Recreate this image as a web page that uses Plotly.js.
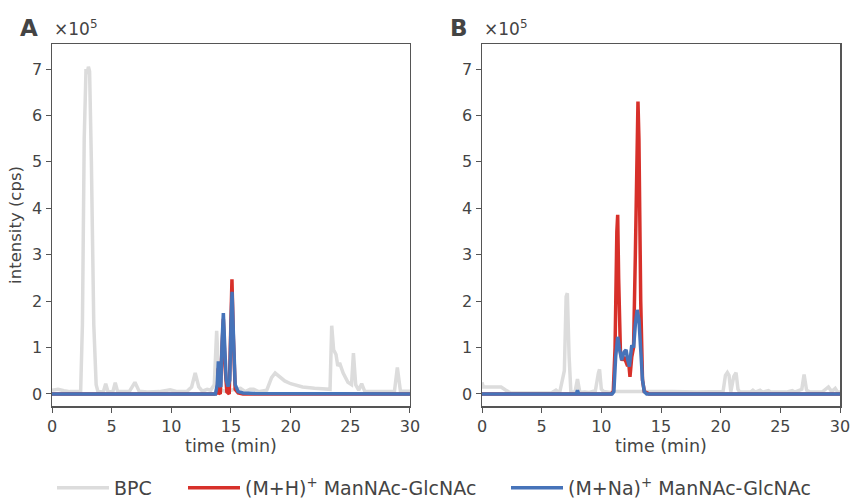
<!DOCTYPE html>
<html>
<head>
<meta charset="utf-8">
<script src="https://cdn.plot.ly/plotly-3.0.1.min.js"></script>
<style>html,body{margin:0;padding:0;background:#fff;}#chart{width:853px;height:498px;}</style>
</head>
<body>
<div id="chart"></div>
<script>
// Intensities in units of 1e5 cps, time in minutes
// Panel A
const tA_bpc = [0,0.5,1,1.5,2.0,2.4,2.55,2.7,2.85,2.95,3.05,3.15,3.3,3.5,3.7,3.85,4.3,4.5,4.7,5.1,5.3,5.5,6.0,6.5,6.95,7.3,8,9,9.9,10.5,11.3,11.7,12.0,12.3,12.6,13.0,13.3,13.6,13.8,14.0,14.2,14.6,15.3,15.8,16.2,16.6,16.9,17.3,18.0,18.4,18.7,19.0,19.5,20,20.5,21,22,23.0,23.3,23.44,23.6,23.8,23.95,24.1,24.4,24.8,25.1,25.26,25.45,25.7,25.95,26.2,27,28,28.7,28.94,29.2,30];
const yA_bpc = [0.08,0.1,0.07,0.05,0.05,0.06,1.5,5.5,7.0,6.9,7.05,6.95,5.0,1.5,0.2,0.05,0.04,0.22,0.04,0.05,0.24,0.05,0.05,0.06,0.25,0.06,0.04,0.05,0.09,0.05,0.05,0.15,0.45,0.15,0.06,0.1,0.08,0.2,1.36,0.2,0.08,0.05,0.1,0.12,0.05,0.1,0.1,0.05,0.08,0.35,0.45,0.38,0.28,0.22,0.18,0.15,0.12,0.1,0.1,1.47,0.95,0.85,0.6,0.67,0.45,0.25,0.2,0.88,0.2,0.08,0.22,0.06,0.05,0.05,0.06,0.57,0.06,0.06];
const tA_mh = [0,13.6,13.85,13.93,14.0,14.1,14.25,14.36,14.5,14.65,14.85,14.95,15.08,15.2,15.35,15.6,16,30];
const yA_mh = [0,0,0.02,0.55,0.02,0.0,1.0,1.62,0.6,0.05,0.0,1.2,2.47,1.2,0.1,0.02,0.0,0];
const tA_mna = [0,13.7,13.85,13.94,14.05,14.15,14.25,14.36,14.48,14.6,14.75,14.9,15.0,15.09,15.2,15.35,15.6,16,17,30];
const yA_mna = [0,0,0.2,0.7,0.2,0.15,1.1,1.74,1.0,0.3,0.16,0.3,1.5,2.2,1.3,0.2,0.05,0.02,0.01,0];
// Panel B
const tB_bpc = [0,0.1,1.0,1.6,2.0,2.4,5.8,6.2,6.5,6.9,7.05,7.15,7.3,7.45,7.8,8.0,8.2,8.6,9.0,9.5,9.75,9.85,10.0,10.2,10.8,11.0,13.8,15,16,18,20.2,20.4,20.56,20.7,20.85,21.1,21.29,21.45,21.6,22.5,22.7,22.9,23.3,23.5,24,24.2,25.5,26.0,26.2,26.8,26.99,27.2,27.5,28.5,29.03,29.3,29.6,29.8,30];
const yB_bpc = [0.25,0.15,0.15,0.15,0.08,0.02,0.02,0.08,0.02,0.5,2.1,2.17,0.8,0.03,0.05,0.32,0.03,0.04,0.03,0.07,0.45,0.53,0.1,0.05,0.03,0.05,0.05,0.04,0.05,0.04,0.05,0.4,0.46,0.4,0.05,0.38,0.46,0.1,0.04,0.04,0.08,0.04,0.08,0.04,0.07,0.04,0.04,0.07,0.04,0.1,0.42,0.08,0.04,0.04,0.15,0.05,0.12,0.04,0.04];
const tB_mh = [0,10.8,11.0,11.15,11.3,11.37,11.45,11.6,11.75,11.9,12.05,12.2,12.3,12.4,12.55,12.7,12.85,13.0,13.07,13.15,13.3,13.45,13.6,14,30];
const yB_mh = [0,0,0.05,1.0,3.5,3.86,2.5,0.9,0.72,0.8,0.7,0.6,0.65,0.37,0.8,1.0,3.0,6.0,6.3,5.5,2.0,0.3,0.05,0,0];
const tB_mna = [0,7.9,8.0,8.1,10.9,11.05,11.2,11.37,11.5,11.7,11.9,12.07,12.2,12.35,12.55,12.7,12.85,13.0,13.15,13.3,13.45,13.6,13.8,30];
const yB_mna = [0,0,0.08,0,0,0.05,0.8,1.23,1.0,0.73,0.9,0.95,0.75,0.59,1.05,1.0,1.5,1.81,1.6,1.0,0.3,0.05,0,0];

const seriesNames = ['BPC', '(M+H)<sup>+</sup> ManNAc-GlcNAc', '(M+Na)<sup>+</sup> ManNAc-GlcNAc'];
const colors = ['#dcdcdc', '#d7302a', '#4673b9'];
const legendIds = ['legend', 'legend2', 'legend3'];
const xTicks = [0,5,10,15,20,25,30];
const yTicks = [0,1,2,3,4,5,6,7];

function tr(x, y, i, ax, show) {
  return {x: x, y: y, type: 'scatter', mode: 'lines', name: seriesNames[i],
    line: {color: colors[i], width: 3.5}, xaxis: ax[0], yaxis: ax[1], showlegend: show,
    legend: legendIds[i], legendgroup: 'g'+i};
}
const data = [
  tr(tA_bpc, yA_bpc, 0, ['x','y'], true),
  tr(tA_mh, yA_mh, 1, ['x','y'], true),
  tr(tA_mna, yA_mna, 2, ['x','y'], true),
  tr(tB_bpc, yB_bpc, 0, ['x2','y2'], false),
  tr(tB_mh, yB_mh, 1, ['x2','y2'], false),
  tr(tB_mna, yB_mna, 2, ['x2','y2'], false)
];

const axColor = '#555555';
const tickFont = {family: 'DejaVu Sans', size: 16, color: '#444444'};
function xax(dom, anchor) {
  return {domain: dom, anchor: anchor, range: [0,30], tickvals: xTicks, ticks: 'outside', ticklen: 5,
    tickcolor: axColor, showline: true, linecolor: axColor, linewidth: 1.5, mirror: true,
    showgrid: false, zeroline: false, tickfont: tickFont, tickangle: 0, automargin: false,
    title: {text: 'time (min)', font: {family: 'DejaVu Sans', size: 17.5, color: '#444444'}, standoff: 1}};
}
function yax(anchor, title) {
  const a = {domain: [0,1], anchor: anchor, range: [-0.26, 7.54], tickvals: yTicks, ticks: 'outside', ticklen: 5,
    tickcolor: axColor, showline: true, linecolor: axColor, linewidth: 1.5, mirror: true,
    showgrid: false, zeroline: false, tickfont: tickFont, automargin: false};
  if (title) a.title = {text: title, font: {family: 'DejaVu Sans', size: 16.5, color: '#444444'}, standoff: 6};
  return a;
}
function leg(xpx) {
  return {orientation: 'h', x: (xpx - 52) / 788, xanchor: 'left', y: -0.2265, yanchor: 'middle',
    itemwidth: 52, font: {family: 'DejaVu Sans', size: 19, color: '#444444'}, bgcolor: 'rgba(0,0,0,0)'};
}
const layout = {
  width: 853, height: 498,
  margin: {l: 52, r: 13, t: 44, b: 92, autoexpand: false},
  paper_bgcolor: '#ffffff', plot_bgcolor: '#ffffff',
  font: {family: 'DejaVu Sans', color: '#444444'},
  xaxis: xax([0, 0.4543], 'y'),
  yaxis: yax('x', 'intensity (cps)'),
  xaxis2: xax([0.5457, 1], 'y2'),
  yaxis2: yax('x2', null),
  showlegend: true,
  legend: leg(52),
  legend2: leg(183),
  legend3: leg(506),
  annotations: [
    {text: '<b>A</b>', xref: 'x domain', yref: 'paper', x: -0.095, y: 1.044, xanchor: 'left', yanchor: 'middle', showarrow: false, font: {family: 'DejaVu Sans', size: 23, color: '#444444'}},
    {text: '×10<sup>5</sup>', xref: 'x domain', yref: 'paper', x: 0, y: 1.044, xanchor: 'left', yanchor: 'middle', showarrow: false, font: {family: 'DejaVu Sans', size: 17, color: '#444444'}},
    {text: '<b>B</b>', xref: 'x2 domain', yref: 'paper', x: -0.095, y: 1.044, xanchor: 'left', yanchor: 'middle', showarrow: false, font: {family: 'DejaVu Sans', size: 23, color: '#444444'}},
    {text: '×10<sup>5</sup>', xref: 'x2 domain', yref: 'paper', x: 0, y: 1.044, xanchor: 'left', yanchor: 'middle', showarrow: false, font: {family: 'DejaVu Sans', size: 17, color: '#444444'}}
  ]
};
Plotly.newPlot('chart', data, layout, {displayModeBar: false, staticPlot: true});
</script>
</body>
</html>
